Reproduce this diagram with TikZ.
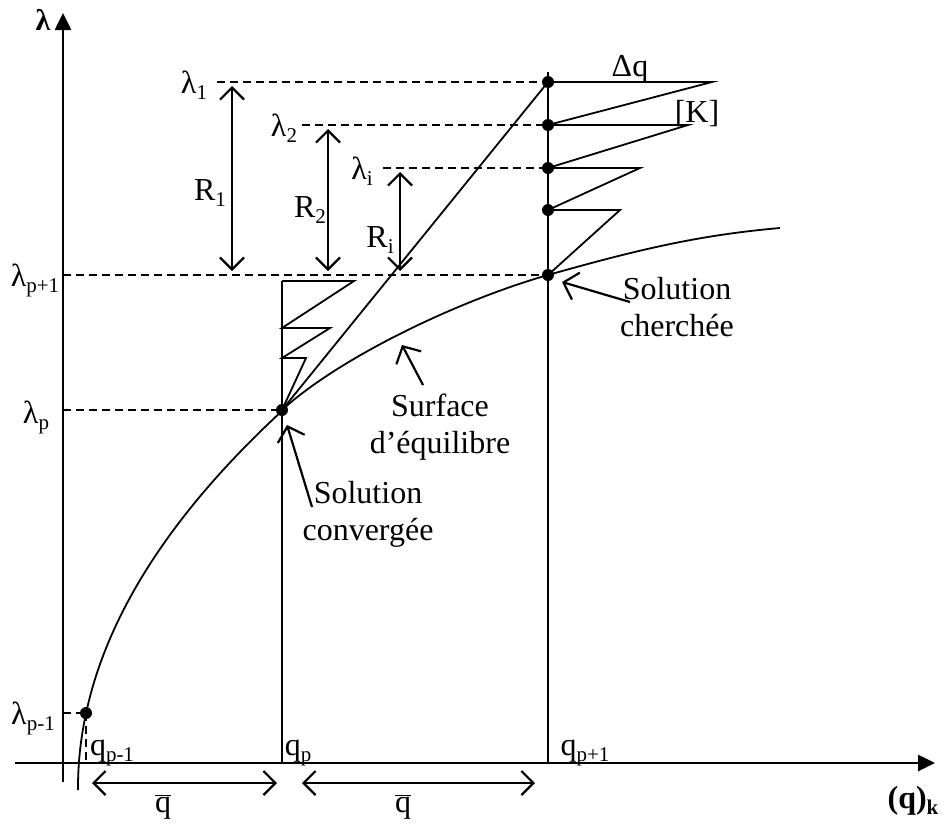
\documentclass[tikz,border=0pt]{standalone}
\usepackage{fontspec}
\setmainfont{Liberation Serif}
\usetikzlibrary{arrows.meta,positioning,calc}
\newcommand{\withsub}[2]{#1\raisebox{-6pt}{\fontsize{21}{21}\selectfont #2}}
\newcommand{\qbar}{$\overline{\hbox{q}}$}

\begin{document}
\begin{tikzpicture}[
    x=1pt,
    y=-1pt,
    font=\fontsize{32}{37}\selectfont,
    axis/.style={
        line width=2.6pt,
        -{Triangle[length=17pt,width=16pt]}
    },
    thinline/.style={line width=1.8pt},
    dline/.style={
        line width=1.5pt,
        dash pattern=on 8pt off 5pt
    },
    dimarrow/.style={
        line width=2.2pt,
        {Straight Barb[length=12pt,width=24pt]}-{Straight Barb[length=12pt,width=24pt]}
    },
    ptr/.style={
        line width=2.2pt,
        -{Straight Barb[length=13pt,width=28pt]}
    },
    lbl/.style={inner sep=0pt, anchor=base},
    txt/.style={inner sep=0pt, align=center}
]
\useasboundingbox (0,0) rectangle (949,825);

% axes
\coordinate (xs) at (15,763);
\coordinate (xe) at (935,763);
\coordinate (ys) at (63,782);
\coordinate (ye) at (63,13);
\draw[axis] (xs) -- (xe);
\draw[axis] (ys) -- (ye);
\node[lbl, font=\bfseries\fontsize{30}{30}\selectfont] (lamax) at (43,30) {λ};
\node[lbl, font=\bfseries\fontsize{32}{32}\selectfont] (qk) at (913,808) {(q)\withsub{}{k}};

% points
\coordinate (Pm) at (86,713);
\coordinate (Pp) at (282,410);
\coordinate (Pq) at (548,275);
\coordinate (L1) at (548,82);
\coordinate (L2) at (548,125);
\coordinate (Li) at (548,168);
\coordinate (L4) at (548,210);
\coordinate (Qp) at (282,763);
\coordinate (Qpt) at (282,281);
\coordinate (Qq) at (548,763);
\coordinate (Qqt) at (548,72);

% equilibrium curve
\draw[thinline] plot[domain=790:410, samples=60, variable=\t]
    ({78+((788-\t)/26.4)^2}, \t);
\draw[thinline] (Pp) .. controls (340,357) and (460,300) .. (Pq)
    .. controls (640,249) and (700,235) .. (780,228);

% verticals and secant
\draw[thinline] (Qpt) -- (Qp);
\draw[thinline] (Qqt) -- (Qq);
\draw[thinline] (Pp) -- (L1);

% iterations
\draw[thinline] (L1) -- ++(164,0) -- (L2) -- ++(140,0) -- (Li) -- ++(92,0)
    -- (L4) -- ++(72,0) -- (Pq);
\draw[thinline] (Pp) -- (306,358) -- (282,358) -- (330,328) -- (282,328)
    -- (354,281) -- (Qpt);

% lambda labels
\node[lbl] (lam1) at (194,93) {\withsub{λ}{1}};
\node[lbl] (lam2) at (284,136) {\withsub{λ}{2}};
\node[lbl] (lami) at (362,179) {\withsub{λ}{i}};
\node[lbl] (lampp) at (35,286) {\withsub{λ}{p+1}};
\node[lbl] (lamp) at (36,423) {\withsub{λ}{p}};
\node[lbl] (lampm) at (33,724) {\withsub{λ}{p-1}};

\draw[dline] ($(lam1.east |- L1)+(10,0)$) -- (L1);
\draw[dline] ($(lam2.east |- L2)+(5,0)$) -- (L2);
\draw[dline] ($(lami.east |- Li)+(10,0)$) -- (Li);
\draw[dline] (ys |- Pq) -- (Pq);
\draw[dline] (ys |- Pp) -- (Pp);
\draw[dline] (ys |- Pm) -- (Pm);
\draw[dline] (Pm) -- (Pm |- xs);

% q labels
\node[lbl] (qpm) at (112,755) {\withsub{q}{p-1}};
\node[lbl] (qp) at (298,755) {\withsub{q}{p}};
\node[lbl] (qpp) at (585,755) {\withsub{q}{p+1}};

% residuals
\coordinate (r1) at (232,0);
\coordinate (r2) at (328,0);
\coordinate (ri) at (400,0);
\draw[dimarrow, shorten <=4pt, shorten >=4pt] (r1 |- L1) -- (r1 |- Pq);
\draw[dimarrow, shorten <=4pt, shorten >=4pt] (r2 |- L2) -- (r2 |- Pq);
\draw[dimarrow, shorten <=4pt, shorten >=4pt] (ri |- Li) -- (ri |- Pq);
\node[lbl] (R1) at (210,200) {\withsub{R}{1}};
\node[lbl] (R2) at (310,217) {\withsub{R}{2}};
\node[lbl] (Ri) at (380,247) {\withsub{R}{i}};

\node[lbl] (dq) at (630,76) {Δq};
\node[lbl] (K) at (697,122) {[K]};

% step lengths
\coordinate (a1) at (92,783);
\coordinate (a2) at (277,783);
\coordinate (b1) at (302,783);
\coordinate (b2) at (535,783);
\draw[dimarrow] (a1) -- (a2);
\draw[dimarrow] (b1) -- (b2);
\node[lbl] (qb1) at (163,812) {\qbar};
\node[lbl] (qb2) at (403,812) {\qbar};

% comments
\node[txt] (conv) at (368,514) {Solution\\convergée};
\node[txt] (surf) at (440,427) {Surface\\d’équilibre};
\node[txt] (cherch) at (677,307) {Solution\\cherchée};
\coordinate (convtail) at (312,507);
\coordinate (surftail) at (423,385);
\coordinate (cherchtail) at (630,302);
\draw[ptr] (convtail) -- ($(Pp)+(5,15)$);
\draw[ptr] (surftail) -- (402,345);
\draw[ptr] (cherchtail) -- ($(Pq)+(14,7)$);

% dots
\foreach \p in {Pm,Pp,Pq,L1,L2,Li,L4}
    \fill (\p) circle (6pt);

\end{tikzpicture}
\end{document}
